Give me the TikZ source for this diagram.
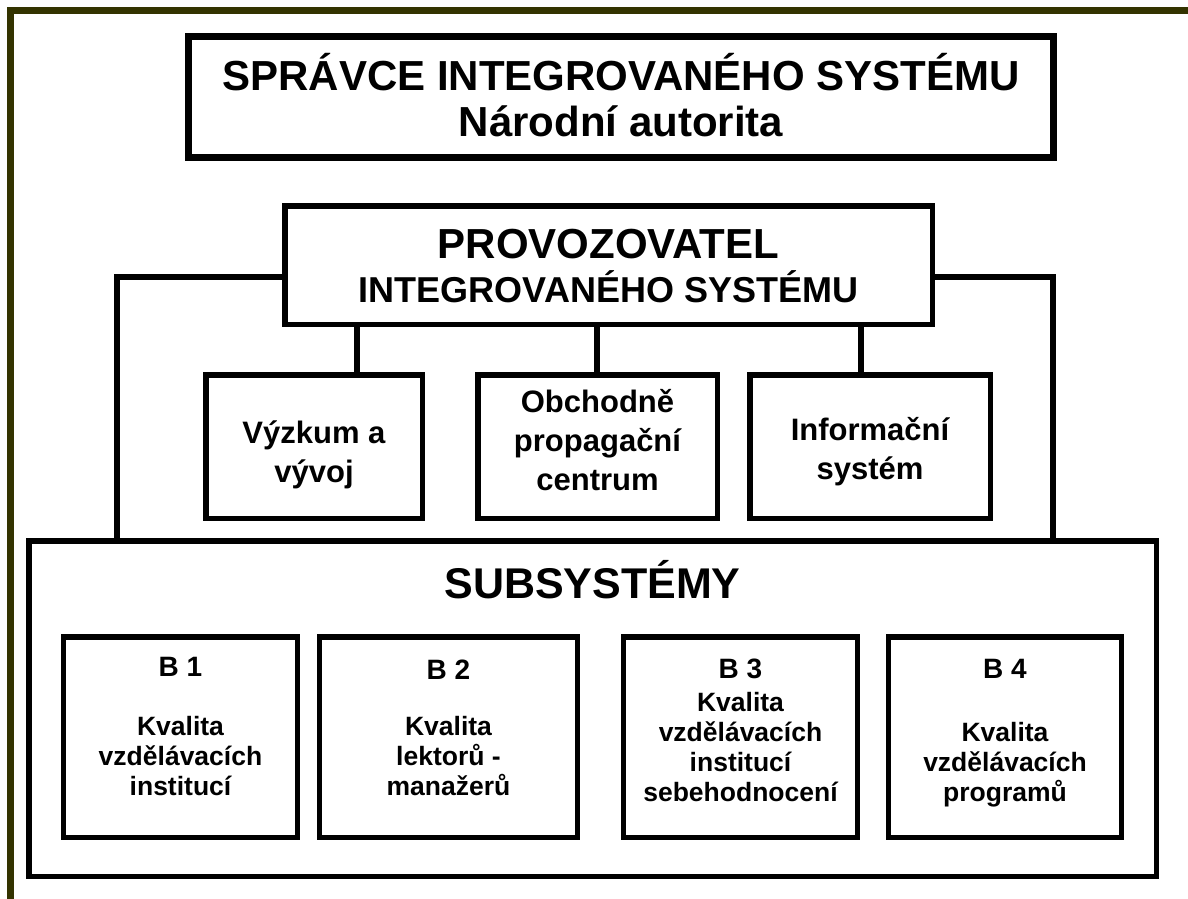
\documentclass[tikz,border=0pt]{standalone}
\usepackage{fontspec}
\setmainfont{Liberation Sans}
\definecolor{frameolive}{RGB}{51,51,0}
\begin{document}
\begin{tikzpicture}[x=1pt,y=-1pt,
  box/.style={draw=black, line width=5.5pt, inner sep=0pt, outer sep=0pt, rectangle},
  conn/.style={draw=black, line width=6.5pt},
  txt/.style={inner sep=0pt, outer sep=0pt, align=center, anchor=base},
  big/.style={font=\bfseries\fontsize{42}{46}\selectfont},
  mid/.style={font=\bfseries\fontsize{31}{39}\selectfont},
  blab/.style={font=\bfseries\fontsize{28}{30}\selectfont},
  bcont/.style={font=\bfseries\fontsize{26.5}{30}\selectfont},
]
\useasboundingbox (0,0) rectangle (1188,899);
\fill[white] (0,0) rectangle (1188,899);
\draw[frameolive, line width=7pt] (10.5,899) -- (10.5,10.5) -- (1188,10.5);

% boxes
\node[box, line width=7pt, minimum width=865pt, minimum height=121pt] (top) at (621,97) {};
\node[box, minimum width=647.5pt, minimum height=118.5pt] (prov) at (608.5,265) {};
\node[box, minimum width=216.5pt, minimum height=143.5pt] (vyz) at (314,446.5) {};
\node[box, minimum width=239.5pt, minimum height=143.5pt] (obch) at (597.5,446.5) {};
\node[box, minimum width=240.5pt, minimum height=143.5pt] (info) at (870,446.5) {};
\node[box, minimum width=1127.5pt, minimum height=335.5pt] (sub) at (592.5,708.5) {};
\node[box, minimum width=234pt, minimum height=200.5pt] (b1) at (180.5,737) {};
\node[box, minimum width=258pt, minimum height=200.5pt] (b2) at (448.5,737) {};
\node[box, minimum width=234pt, minimum height=200.5pt] (b3) at (740.5,737) {};
\node[box, minimum width=233pt, minimum height=200.5pt] (b4) at (1005,737) {};

% connectors
\coordinate (cl) at (117,277);
\coordinate (cr) at (1053,277);
\coordinate (c1) at (357,0);
\coordinate (c2) at (597,0);
\coordinate (c3) at (861,0);
\draw[conn] (prov.west |- cl) -- (cl) -- (cl |- sub.north);
\draw[conn] (prov.east |- cr) -- (cr) -- (cr |- sub.north);
\draw[conn] (c1 |- prov.south) -- (c1 |- vyz.north);
\draw[conn] (c2 |- prov.south) -- (c2 |- obch.north);
\draw[conn] (c3 |- prov.south) -- (c3 |- info.north);

% texts (anchor = baseline of the last line)
\node[txt, big] (ttop1) at (621,90) {SPRÁVCE INTEGROVANÉHO SYSTÉMU};
\node[txt, big] (ttop2) at (621,136) {Národní autorita};
\node[txt, big] (tprov1) at (608.5,258) {PROVOZOVATEL};
\node[txt, font=\bfseries\fontsize{36}{40}\selectfont] (tprov2) at (608.5,302) {INTEGROVANÉHO SYSTÉMU};
\node[txt, mid] (tvyz) at (314,482) {Výzkum a\\vývoj};
\node[txt, mid] (tobch) at (597.5,490) {Obchodně\\propagační\\centrum};
\node[txt, mid] (tinfo) at (870,479) {Informační\\systém};
\node[txt, font=\bfseries\fontsize{43}{46}\selectfont] (tsub) at (592.5,598) {SUBSYSTÉMY};
\node[txt, blab] (lb1) at (180.5,676) {B 1};
\node[txt, blab] (lb2) at (448.5,679) {B 2};
\node[txt, blab] (lb3) at (740.5,678) {B 3};
\node[txt, blab] (lb4) at (1005,678) {B 4};
\node[txt, bcont] (cb1) at (180.5,795) {Kvalita\\vzdělávacích\\institucí};
\node[txt, bcont] (cb2) at (448.5,795) {Kvalita\\lektorů -\\manažerů};
\node[txt, bcont] (cb3) at (740.5,801) {Kvalita\\vzdělávacích\\institucí\\sebehodnocení};
\node[txt, bcont] (cb4) at (1005,801) {Kvalita\\vzdělávacích\\programů};
\end{tikzpicture}
\end{document}
